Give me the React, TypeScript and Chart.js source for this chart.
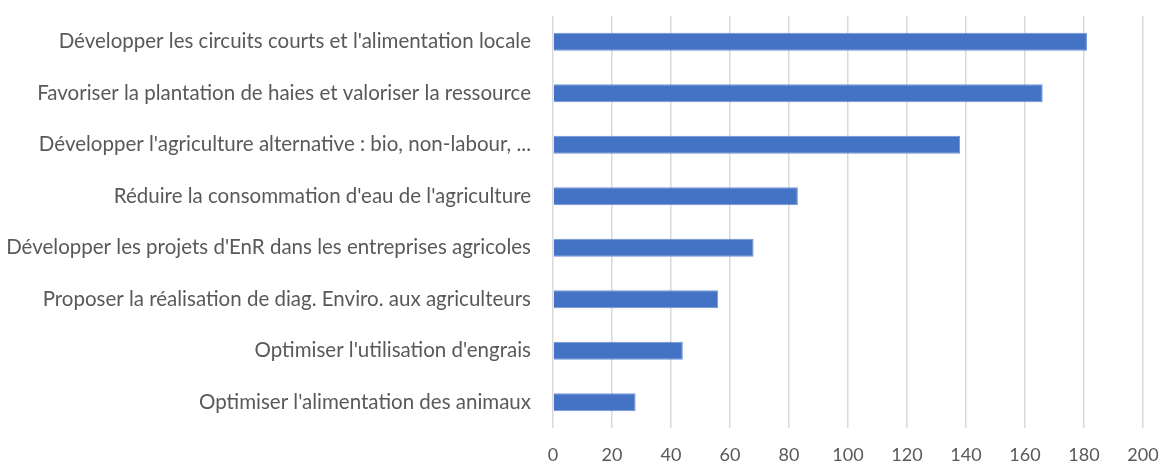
import React, { useEffect, useRef } from "react";
import { Chart, registerables } from "chart.js";

Chart.register(...registerables);

const categories = [
  "Développer les circuits courts et l'alimentation locale",
  "Favoriser la plantation de haies et valoriser la ressource",
  "Développer l'agriculture alternative : bio, non-labour, ...",
  "Réduire la consommation d'eau de l'agriculture",
  "Développer les projets d'EnR dans les entreprises agricoles",
  "Proposer la réalisation de diag. Enviro. aux agriculteurs",
  "Optimiser l'utilisation d'engrais",
  "Optimiser l'alimentation des animaux",
];
const values = [181, 166, 138, 83, 68, 56, 44, 28];
const xMin = 0;
const xMax = 200;
const xStep = 20;

export default function App() {
  const ref = useRef<HTMLCanvasElement | null>(null);
  useEffect(() => {
    document.body.style.margin = "0";
    const ctx = ref.current!;
    const chart = new Chart(ctx, {
      type: "bar",
      data: {
        labels: categories,
        datasets: [
          {
            data: values,
            backgroundColor: "#4472C4",
            borderColor: "#6f94d6",
            borderWidth: 1,
            barPercentage: 0.7,
            categoryPercentage: 0.5,
          },
        ],
      },
      options: {
        indexAxis: "y",
        animation: false,
        responsive: false,
        maintainAspectRatio: false,
        layout: { padding: { top: 16, right: 22, bottom: 0, left: 0 } },
        plugins: { legend: { display: false }, tooltip: { enabled: false } },
        scales: {
          x: {
            min: xMin,
            max: xMax,
            afterFit: (scale: any) => {
              scale.height = 37;
              scale.paddingLeft = 0;
              scale.paddingRight = 0;
            },
            ticks: {
              stepSize: xStep,
              color: "#595959",
              font: { family: "Lato", size: 18 },
              padding: 16,
            },
            grid: { color: "#d9d9d9", lineWidth: 1.5, drawTicks: false },
            border: { display: false },
          },
          y: {
            afterFit: (scale: any) => {
              scale.width = 553;
              scale.paddingTop = 0;
              scale.paddingBottom = 0;
            },
            ticks: {
              color: "#595959",
              font: { family: "Lato", size: 20.5 },
              padding: 22,
            },
            grid: { display: false, drawTicks: false },
            border: { display: false },
          },
        },
      },
    });
    return () => chart.destroy();
  }, []);
  return (
    <div style={{ position: "absolute", left: 0, top: 0, width: 1165, height: 465 }}>
      <canvas ref={ref} width={1165} height={465} />
    </div>
  );
}
